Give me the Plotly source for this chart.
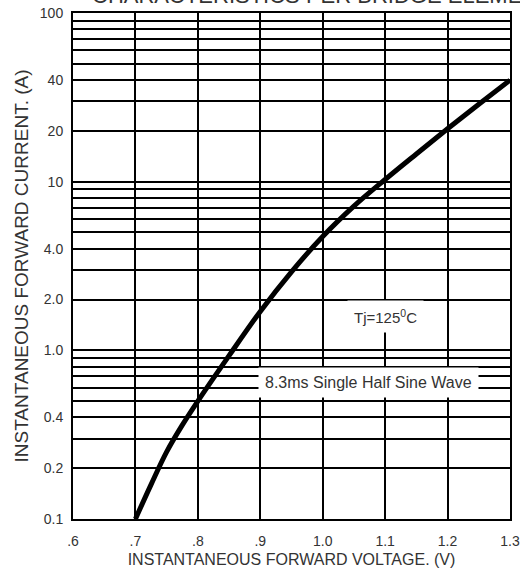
import plotly.graph_objects as go

# Data
voltage = [0.70, 0.725, 0.75, 0.775, 0.80, 0.85, 0.90, 0.95, 1.00, 1.05, 1.10, 1.15, 1.20, 1.25, 1.30]
current = [0.10, 0.16, 0.25, 0.36, 0.50, 0.93, 1.70, 2.92, 4.73, 7.16, 10.3, 14.6, 20.6, 28.8, 40.0]

x_tickvals = [0.6, 0.7, 0.8, 0.9, 1.0, 1.1, 1.2, 1.3]
x_ticktext = [".6", ".7", ".8", ".9", "1.0", "1.1", "1.2", "1.3"]
y_tickvals = [0.1, 0.2, 0.4, 1.0, 2.0, 4.0, 10, 20, 40, 100]
y_ticktext = ["0.1", "0.2", "0.4", "1.0", "2.0", "4.0", "10", "20", "40", "100"]
y_minor = [0.3, 0.5, 0.6, 0.7, 0.8, 0.9, 3, 5, 6, 7, 8, 9, 30, 50, 60, 70, 80, 90]

title_text = "CHARACTERISTICS PER BRIDGE ELEMENT"
x_title = "INSTANTANEOUS FORWARD VOLTAGE. (V)"
y_title = "INSTANTANEOUS FORWARD CURRENT. (A)"
note_temp = "Tj=125<sup>0</sup>C"
note_wave = "8.3ms Single Half Sine Wave"

FONT = "Liberation Sans, Arial, sans-serif"
TXT = "#333333"

fig = go.Figure()
fig.add_trace(go.Scatter(
    x=voltage, y=current, mode="lines",
    line=dict(color="black", width=5, shape="spline", smoothing=1.0),
    showlegend=False, hoverinfo="skip",
))

fig.update_xaxes(
    range=[0.6, 1.3], tickvals=x_tickvals, ticktext=x_ticktext,
    showgrid=True, gridcolor="black", gridwidth=2,
    showline=True, mirror=True, linecolor="black", linewidth=2,
    zeroline=False, ticks="", ticklabelstandoff=8, automargin=False,
    tickfont=dict(family=FONT, size=14, color=TXT),
    title=dict(text=x_title, font=dict(family=FONT, size=16, color=TXT), standoff=6),
)
fig.update_yaxes(
    type="log", range=[-1, 2], tickvals=y_tickvals, ticktext=y_ticktext,
    showgrid=True, gridcolor="black", gridwidth=2,
    minor=dict(tickvals=y_minor, showgrid=True, gridcolor="black", gridwidth=2, ticks=""),
    showline=True, mirror=True, linecolor="black", linewidth=2,
    zeroline=False, ticks="", ticklabelstandoff=5, automargin=False,
    tickfont=dict(family=FONT, size=14, color=TXT),
    title=dict(text=y_title, font=dict(family=FONT, size=19, color=TXT), standoff=6),
)

fig.add_annotation(
    text=note_temp, x=1.1, xref="x", y=0.40, yref="paper",
    showarrow=False, bgcolor="white", borderpad=6,
    font=dict(family=FONT, size=15, color=TXT),
)
fig.add_annotation(
    text=note_wave, x=1.073, xref="x", y=0.240, yref="paper",
    showarrow=False, bgcolor="white", borderpad=6,
    font=dict(family=FONT, size=16, color=TXT),
)
fig.add_annotation(
    text=title_text, x=0.039, xref="paper", xanchor="left",
    y=1.034, yref="paper", yanchor="middle",
    showarrow=False, font=dict(family=FONT, size=22, color=TXT),
)

fig.update_layout(
    width=520, height=572,
    margin=dict(l=73, r=10, t=13, b=53),
    paper_bgcolor="white", plot_bgcolor="white",
)

fig.write_html(
    "out.html",
    config={"displayModeBar": False},
    post_script="document.body.style.margin='0';document.body.style.overflow='hidden';",
)
